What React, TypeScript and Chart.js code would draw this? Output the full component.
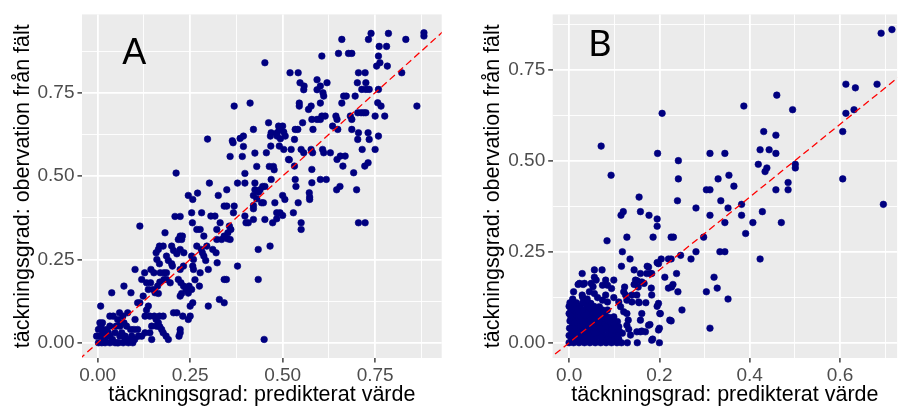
import React, { useEffect, useRef } from "react";
import { Chart, registerables } from "chart.js";

Chart.register(...registerables);

// ---------- data ----------
// Panel A: [predicted, observed]
const pointsA: [number, number][] = [
  [0.882, 0.93], [0.882, 0.92], [0.739, 0.928], [0.786, 0.928], [0.732, 0.91], [0.833, 0.91], [0.66, 0.91],
  [0.761, 0.889], [0.781, 0.889], [0.606, 0.86], [0.651, 0.868], [0.678, 0.868], [0.687, 0.868], [0.759, 0.86],
  [0.763, 0.84], [0.754, 0.83], [0.783, 0.83], [0.452, 0.84], [0.52, 0.81], [0.542, 0.81], [0.705, 0.81],
  [0.723, 0.81], [0.822, 0.81], [0.547, 0.78], [0.558, 0.77], [0.593, 0.789], [0.602, 0.77], [0.593, 0.759],
  [0.62, 0.78], [0.557, 0.759], [0.609, 0.75], [0.611, 0.74], [0.702, 0.78], [0.725, 0.78], [0.714, 0.76],
  [0.725, 0.76], [0.734, 0.76], [0.759, 0.76], [0.696, 0.74], [0.665, 0.74], [0.672, 0.74], [0.66, 0.719],
  [0.545, 0.719], [0.545, 0.71], [0.577, 0.71], [0.57, 0.7], [0.602, 0.719], [0.757, 0.72], [0.766, 0.71],
  [0.863, 0.71], [0.369, 0.71], [0.412, 0.719], [0.703, 0.69], [0.712, 0.69], [0.719, 0.69], [0.725, 0.69],
  [0.75, 0.68], [0.776, 0.68], [0.606, 0.68], [0.615, 0.68], [0.602, 0.67], [0.593, 0.67], [0.579, 0.67],
  [0.644, 0.68], [0.647, 0.67], [0.683, 0.68], [0.687, 0.67], [0.462, 0.66], [0.554, 0.66], [0.635, 0.65],
  [0.687, 0.64], [0.649, 0.64], [0.582, 0.64], [0.534, 0.64], [0.541, 0.64], [0.489, 0.65], [0.5, 0.65],
  [0.491, 0.64], [0.503, 0.632], [0.421, 0.64], [0.469, 0.63], [0.467, 0.62], [0.485, 0.63], [0.485, 0.62],
  [0.494, 0.612], [0.507, 0.62], [0.705, 0.63], [0.731, 0.63], [0.703, 0.61], [0.734, 0.61], [0.759, 0.62],
  [0.532, 0.61], [0.394, 0.62], [0.385, 0.613], [0.364, 0.606], [0.297, 0.611], [0.366, 0.6], [0.456, 0.57],
  [0.468, 0.59], [0.491, 0.59], [0.503, 0.58], [0.523, 0.58], [0.55, 0.58], [0.557, 0.57], [0.577, 0.58],
  [0.581, 0.57], [0.608, 0.58], [0.611, 0.57], [0.629, 0.57], [0.394, 0.589], [0.425, 0.569], [0.358, 0.559],
  [0.391, 0.559], [0.516, 0.55], [0.647, 0.55], [0.656, 0.56], [0.669, 0.56], [0.75, 0.58], [0.715, 0.58],
  [0.722, 0.53], [0.731, 0.54], [0.663, 0.53], [0.518, 0.549], [0.579, 0.52], [0.532, 0.53], [0.692, 0.51],
  [0.469, 0.49], [0.534, 0.49], [0.579, 0.48], [0.602, 0.49], [0.618, 0.49], [0.464, 0.529], [0.475, 0.529],
  [0.477, 0.519], [0.43, 0.529], [0.398, 0.508], [0.212, 0.509], [0.378, 0.479], [0.398, 0.479], [0.302, 0.479],
  [0.425, 0.479], [0.536, 0.469], [0.452, 0.469], [0.655, 0.469], [0.646, 0.459], [0.7, 0.459], [0.245, 0.442],
  [0.257, 0.43], [0.27, 0.449], [0.326, 0.442], [0.349, 0.459], [0.425, 0.459], [0.439, 0.459], [0.446, 0.469],
  [0.435, 0.452], [0.421, 0.442], [0.43, 0.432], [0.5, 0.442], [0.506, 0.43], [0.572, 0.45], [0.573, 0.437],
  [0.573, 0.43], [0.479, 0.42], [0.542, 0.42], [0.421, 0.412], [0.443, 0.42], [0.448, 0.42], [0.421, 0.402],
  [0.342, 0.41], [0.349, 0.41], [0.369, 0.41], [0.484, 0.39], [0.493, 0.39], [0.529, 0.39], [0.5, 0.382],
  [0.254, 0.39], [0.281, 0.39], [0.306, 0.38], [0.317, 0.38], [0.367, 0.39], [0.209, 0.379], [0.223, 0.379],
  [0.398, 0.38], [0.484, 0.372], [0.421, 0.37], [0.401, 0.36], [0.407, 0.36], [0.452, 0.37], [0.473, 0.36],
  [0.55, 0.36], [0.55, 0.34], [0.705, 0.36], [0.723, 0.36], [0.114, 0.35], [0.256, 0.36], [0.331, 0.36],
  [0.356, 0.35], [0.36, 0.34], [0.352, 0.33], [0.268, 0.34], [0.277, 0.34], [0.322, 0.34], [0.182, 0.33],
  [0.223, 0.32], [0.229, 0.32], [0.287, 0.32], [0.342, 0.32], [0.351, 0.312], [0.358, 0.31], [0.335, 0.31],
  [0.322, 0.31], [0.218, 0.31], [0.227, 0.31], [0.268, 0.29], [0.295, 0.29], [0.167, 0.29], [0.177, 0.29],
  [0.164, 0.28], [0.2, 0.29], [0.205, 0.277], [0.214, 0.267], [0.434, 0.28], [0.466, 0.29], [0.311, 0.28],
  [0.32, 0.27], [0.223, 0.28], [0.233, 0.27], [0.28, 0.28], [0.283, 0.27], [0.158, 0.27], [0.254, 0.26],
  [0.259, 0.25], [0.287, 0.26], [0.292, 0.247], [0.186, 0.26], [0.191, 0.247], [0.2, 0.237], [0.202, 0.23],
  [0.16, 0.25], [0.167, 0.237], [0.323, 0.24], [0.232, 0.23], [0.257, 0.23], [0.378, 0.23], [0.101, 0.22],
  [0.144, 0.22], [0.259, 0.22], [0.299, 0.22], [0.277, 0.21], [0.223, 0.22], [0.127, 0.21], [0.152, 0.21],
  [0.169, 0.21], [0.179, 0.21], [0.186, 0.21], [0.119, 0.19], [0.132, 0.18], [0.143, 0.18], [0.179, 0.19],
  [0.186, 0.19], [0.168, 0.182], [0.162, 0.17], [0.164, 0.148], [0.218, 0.19], [0.225, 0.18], [0.232, 0.17],
  [0.263, 0.189], [0.275, 0.17], [0.434, 0.19], [0.342, 0.19], [0.348, 0.19], [0.196, 0.18], [0.239, 0.16],
  [0.245, 0.149], [0.247, 0.17], [0.254, 0.16], [0.071, 0.17], [0.137, 0.16], [0.15, 0.16], [0.038, 0.15],
  [0.09, 0.15], [0.223, 0.14], [0.227, 0.148], [0.123, 0.14], [0.155, 0.15], [0.329, 0.13], [0.342, 0.12],
  [0.257, 0.12], [0.25, 0.11], [0.299, 0.11], [0.108, 0.12], [0.114, 0.12], [0.137, 0.11], [0.008, 0.11],
  [0.132, 0.098], [0.205, 0.09], [0.214, 0.09], [0.23, 0.08], [0.25, 0.08], [0.245, 0.07], [0.059, 0.09],
  [0.068, 0.08], [0.081, 0.09], [0.033, 0.08], [0.042, 0.08], [0.128, 0.08], [0.141, 0.08], [0.153, 0.08],
  [0.167, 0.08], [0.177, 0.08], [0.054, 0.07], [0.062, 0.06], [0.071, 0.06], [0.101, 0.07], [0.158, 0.07],
  [0.164, 0.06], [0.006, 0.06], [0.013, 0.06], [0.009, 0.05], [0.033, 0.05], [0.05, 0.05], [0.06, 0.05],
  [0.078, 0.05], [0.089, 0.04], [0.098, 0.04], [0.108, 0.04], [0.146, 0.05], [0.159, 0.05], [0.168, 0.048],
  [0.173, 0.04], [0.177, 0.03], [0.185, 0.02], [0.223, 0.04], [0.223, 0.03], [0.22, 0.02], [0.002, 0.04],
  [0.011, 0.04], [0.024, 0.04], [0.015, 0.03], [0.029, 0.03], [0.047, 0.03], [-0.003, 0.02], [0.006, 0.02],
  [0.033, 0.02], [0.06, 0.02], [0.074, 0.02], [0.092, 0.02], [0.11, 0.02], [0.119, 0.02], [0.146, 0.01],
  [0.002, 0.0], [0.011, 0.0], [0.02, 0.0], [0.033, 0.0], [0.047, 0.0], [0.056, 0.0], [0.069, 0.0],
  [0.083, 0.0], [0.095, 0.0], [0.074, 0.01], [0.087, 0.01], [0.45, 0.01], [0.128, 0.03], [0.141, 0.03],
  [0.191, 0.01], [0.04, 0.01], [0.02, 0.01], [0.1, 0.01], [0.053, 0.0], [0.01, 0.02], [0.025, 0.025],
  [0.065, 0.03],
];

// Panel B: [predicted, observed]
const pointsB: [number, number][] = [
  [0.715, 0.86], [0.691, 0.85], [0.613, 0.71], [0.634, 0.7], [0.682, 0.71], [0.613, 0.63], [0.631, 0.64],
  [0.606, 0.58], [0.606, 0.45], [0.696, 0.38], [0.46, 0.68], [0.387, 0.65], [0.495, 0.64], [0.431, 0.58],
  [0.458, 0.57], [0.423, 0.53], [0.443, 0.53], [0.458, 0.52], [0.419, 0.49], [0.438, 0.48], [0.434, 0.47],
  [0.501, 0.49], [0.501, 0.48], [0.458, 0.42], [0.485, 0.44], [0.485, 0.42], [0.206, 0.63], [0.071, 0.54],
  [0.196, 0.52], [0.312, 0.52], [0.345, 0.52], [0.242, 0.5], [0.093, 0.46], [0.242, 0.45], [0.33, 0.45],
  [0.354, 0.46], [0.365, 0.43], [0.304, 0.42], [0.312, 0.42], [0.155, 0.4], [0.24, 0.39], [0.336, 0.39],
  [0.382, 0.38], [0.352, 0.37], [0.281, 0.37], [0.428, 0.36], [0.158, 0.36], [0.115, 0.35], [0.12, 0.36],
  [0.177, 0.35], [0.312, 0.35], [0.382, 0.35], [0.195, 0.34], [0.195, 0.32], [0.345, 0.33], [0.407, 0.33],
  [0.47, 0.33], [0.391, 0.3], [0.084, 0.28], [0.128, 0.29], [0.186, 0.29], [0.226, 0.29], [0.231, 0.29],
  [0.298, 0.29], [0.118, 0.25], [0.281, 0.25], [0.334, 0.25], [0.345, 0.25], [0.247, 0.24], [0.135, 0.23],
  [0.204, 0.23], [0.22, 0.23], [0.226, 0.23], [0.27, 0.23], [0.423, 0.23], [0.195, 0.22], [0.116, 0.21],
  [0.173, 0.21], [0.056, 0.2], [0.073, 0.2], [0.144, 0.2], [0.029, 0.19], [0.158, 0.19], [0.18, 0.19],
  [0.238, 0.19], [0.212, 0.18], [0.321, 0.18], [0.02, 0.16], [0.031, 0.16], [0.144, 0.16], [0.151, 0.17],
  [0.23, 0.16], [0.182, 0.15], [0.22, 0.15], [0.328, 0.15], [0.241, 0.14], [0.304, 0.14], [0.352, 0.12],
  [0.155, 0.11], [0.17, 0.11], [0.195, 0.1], [0.25, 0.09], [0.202, 0.08], [0.226, 0.06], [0.179, 0.05],
  [0.2, 0.04], [0.312, 0.04], [0.158, 0.03], [0.169, 0.03], [0.185, 0.01], [0.2, 0.0], [0.151, 0.0],
  [0.129, 0.0],
  [0.056, 0.18], [0.06, 0.172], [0.081, 0.172], [0.099, 0.172], [0.023, 0.163], [0.034, 0.163], [0.049, 0.163],
  [0.053, 0.154], [0.074, 0.158], [0.085, 0.158], [0.094, 0.149], [0.029, 0.131], [0.056, 0.135], [0.063, 0.124],
  [0.081, 0.131], [0.074, 0.117], [0.085, 0.112], [0.099, 0.124], [0.11, 0.112], [0.114, 0.099], [0.121, 0.085],
  [0.139, 0.131], [0.15, 0.131], [0.139, 0.112], [0.154, 0.112], [0.012, 0.108], [0.019, 0.099], [0.037, 0.108],
  [0.048, 0.108], [0.043, 0.09], [0.067, 0.099], [0.074, 0.09], [0.085, 0.09], [0.099, 0.071], [0.107, 0.058],
  [0.11, 0.044], [0.128, 0.08], [0.131, 0.062], [0.128, 0.048], [0.132, 0.037], [0.118, 0.026], [0.136, 0.021],
  [0.15, 0.03], [0.161, 0.032], [0.176, 0.048], [0.183, 0.007], [0.198, 0.035], [0.147, 0.172], [0.183, 0.19],
  [0.166, 0.163], [0.153, 0.153], [0.183, 0.131], [0.198, 0.108], [0.201, 0.08], [0.223, 0.062], [0.227, 0.153],
  [0.198, 0.217], [0.176, 0.208], [0.172, 0.19], [0.161, 0.167], [0.123, 0.153], [0.121, 0.14], [0.125, 0.131],
  [0.128, 0.117], [0.158, 0.062], [0.161, 0.08],
  [0.0, 0.1], [0.012, 0.1], [0.025, 0.1], [0.04, 0.1], [0.055, 0.1],
  [0.004, 0.09], [0.018, 0.09], [0.031, 0.09], [0.047, 0.09], [0.06, 0.09],
  [0.0, 0.08], [0.014, 0.08], [0.027, 0.08], [0.04, 0.08], [0.053, 0.08], [0.066, 0.08], [0.079, 0.08],
  [0.007, 0.07], [0.02, 0.07], [0.034, 0.07], [0.048, 0.07], [0.061, 0.07], [0.075, 0.07], [0.088, 0.07],
  [0.002, 0.06], [0.015, 0.06], [0.028, 0.06], [0.042, 0.06], [0.055, 0.06], [0.069, 0.06], [0.083, 0.06], [0.095, 0.06],
  [0.008, 0.05], [0.021, 0.05], [0.035, 0.05], [0.049, 0.05], [0.062, 0.05], [0.076, 0.05], [0.09, 0.05], [0.1, 0.05],
  [0.001, 0.04], [0.014, 0.04], [0.027, 0.04], [0.041, 0.04], [0.055, 0.04], [0.068, 0.04], [0.082, 0.04], [0.096, 0.04], [0.104, 0.04],
  [0.006, 0.03], [0.019, 0.03], [0.033, 0.03], [0.046, 0.03], [0.06, 0.03], [0.073, 0.03], [0.087, 0.03], [0.1, 0.03], [0.112, 0.03],
  [0.0, 0.02], [0.012, 0.02], [0.025, 0.02], [0.039, 0.02], [0.052, 0.02], [0.066, 0.02], [0.079, 0.02], [0.093, 0.02], [0.106, 0.02],
  [0.005, 0.01], [0.018, 0.01], [0.031, 0.01], [0.045, 0.01], [0.058, 0.01], [0.072, 0.01], [0.085, 0.01], [0.099, 0.01], [0.11, 0.01],
  [0.0, 0.0], [0.01, 0.0], [0.022, 0.0], [0.034, 0.0], [0.046, 0.0], [0.058, 0.0], [0.07, 0.0], [0.082, 0.0], [0.094, 0.0], [0.106, 0.0], [0.116, 0.0],
  [0.002, 0.11], [0.016, 0.11], [0.03, 0.11], [0.008, 0.12], [0.04, 0.12], [0.01, 0.14], [0.045, 0.14],
  [0.007, 0.095], [0.021, 0.085], [0.036, 0.075], [0.051, 0.065], [0.066, 0.055], [0.081, 0.045], [0.094, 0.035],
  [0.012, 0.055], [0.026, 0.045], [0.041, 0.035], [0.056, 0.025], [0.071, 0.015], [0.088, 0.005], [0.03, 0.125],
  [0.062, 0.085], [0.045, 0.095], [0.09, 0.065], [0.107, 0.015], [0.003, 0.075], [0.017, 0.025], [0.035, 0.015],
];

// Axis ticks and labels
const majorTicksA = [0, 0.25, 0.5, 0.75];
const minorTicksA = [0.125, 0.375, 0.625, 0.875];
const tickLabelsA = ["0.00", "0.25", "0.50", "0.75"];
const majorTicksBx = [0, 0.2, 0.4, 0.6];
const minorTicksBx = [0.1, 0.3, 0.5, 0.7];
const tickLabelsBx = ["0.0", "0.2", "0.4", "0.6"];
const majorTicksBy = [0, 0.25, 0.5, 0.75];
const minorTicksBy = [0.125, 0.375, 0.625, 0.875];
const tickLabelsBy = ["0.00", "0.25", "0.50", "0.75"];

// identity (1:1) reference line ends
const identityA = [-0.05, 0.95];
const identityB = [-0.05, 0.95];

const xTitle = "täckningsgrad: predikterat värde";
const yTitle = "täckningsgrad: obervation från fält";

// ---------- styling ----------
const FONT = "'Liberation Sans', Arial, Helvetica, sans-serif";
const NAVY = "#000080";

interface PanelCfg {
  width: number;
  points: [number, number][];
  identity: number[];
  xRange: [number, number];
  yRange: [number, number];
  xMajor: number[]; xMinor: number[]; xLabels: string[];
  yMajor: number[]; yMinor: number[]; yLabels: string[];
  yAxisWidth: number;
  rightPad: number;
  yTitlePad: number;
  letter: string;
  letterPos: [number, number];
  letterFont: string;
  letterSize: number;
  letterCap: number;
}

function makeAxis(
  major: number[], minor: number[], labels: string[], range: [number, number],
  title: string, fit: (s: any) => void, titlePad: any, tickPad: number
) {
  const all = [...major, ...minor].sort((a, b) => a - b);
  const isMajor = (v: number) => major.some((m) => Math.abs(m - v) < 1e-9);
  return {
    type: "linear" as const,
    min: range[0],
    max: range[1],
    afterBuildTicks: (s: any) => {
      s.ticks = all.map((v) => ({ value: v }));
    },
    afterFit: fit,
    border: { display: false },
    grid: {
      color: "#FFFFFF",
      lineWidth: (c: any) => (c.tick && isMajor(c.tick.value) ? 1.8 : 0.9),
      drawTicks: true,
      tickLength: 4.5,
      tickWidth: 1.4,
      tickColor: (c: any) => (c.tick && isMajor(c.tick.value) ? "#333333" : "rgba(0,0,0,0)"),
    },
    ticks: {
      autoSkip: false,
      maxRotation: 0,
      minRotation: 0,
      padding: tickPad,
      color: "#4D4D4D",
      font: { family: FONT, size: 19 },
      callback: (v: any) => {
        const i = major.findIndex((m) => Math.abs(m - Number(v)) < 1e-9);
        return i >= 0 ? labels[i] : "";
      },
    },
    title: {
      display: true,
      text: title,
      color: "#000000",
      font: { family: FONT, size: 21.5 },
      padding: titlePad,
    },
  };
}

const panelPlugin = {
  id: "ggpanel",
  beforeDraw(chart: any) {
    const { ctx, chartArea } = chart;
    const { left, top, right, bottom } = chartArea;
    ctx.save();
    ctx.fillStyle = "#EBEBEB";
    ctx.fillRect(left, top, right - left, bottom - top);
    ctx.restore();
  },
  afterDraw(chart: any) {
    const cfg: PanelCfg = chart.options.plugins.ggpanel.cfg;
    const { ctx, scales } = chart;
    const x = scales.x.getPixelForValue(cfg.letterPos[0]);
    const y = scales.y.getPixelForValue(cfg.letterPos[1]);
    ctx.save();
    ctx.fillStyle = "#000000";
    ctx.font = `${cfg.letterSize}px ${cfg.letterFont}`;
    ctx.textAlign = "center";
    ctx.textBaseline = "alphabetic";
    ctx.fillText(cfg.letter, x, y + cfg.letterCap / 2);
    ctx.restore();
  },
};

function Panel({ cfg }: { cfg: PanelCfg }) {
  const ref = useRef<HTMLCanvasElement>(null);
  useEffect(() => {
    const canvas = ref.current;
    if (!canvas) return;
    const chart = new Chart(canvas, {
      type: "scatter",
      data: {
        datasets: [
          {
            type: "line",
            data: cfg.identity.map((v) => ({ x: v, y: v })),
            borderColor: "#FF0000",
            borderWidth: 1.3,
            borderDash: [7, 4],
            pointRadius: 0,
            fill: false,
            clip: 0,
          } as any,
          {
            data: cfg.points.map(([x, y]) => ({ x, y })),
            backgroundColor: NAVY,
            borderColor: NAVY,
            borderWidth: 0.6,
            pointRadius: 3.3,
            pointHoverRadius: 3.3,
          },
        ],
      },
      options: {
        responsive: false,
        animation: false,
        devicePixelRatio: 1,
        events: [],
        layout: { padding: { left: 0, top: 13.3, right: cfg.rightPad, bottom: 0 } },
        plugins: {
          legend: { display: false },
          tooltip: { enabled: false },
          ggpanel: { cfg },
        } as any,
        scales: {
          x: makeAxis(cfg.xMajor, cfg.xMinor, cfg.xLabels, cfg.xRange, xTitle,
            (s: any) => { s.height = 52; }, { top: 0, bottom: 2 }, 1.5) as any,
          y: makeAxis(cfg.yMajor, cfg.yMinor, cfg.yLabels, cfg.yRange, yTitle,
            (s: any) => { s.width = cfg.yAxisWidth; }, { top: cfg.yTitlePad, bottom: 0 }, 3) as any,
        },
      },
      plugins: [panelPlugin],
    });
    return () => chart.destroy();
  }, [cfg]);
  return (
    <canvas
      ref={ref}
      width={cfg.width}
      height={410}
      style={{ display: "block", width: cfg.width, height: 410 }}
    />
  );
}

const cfgA: PanelCfg = {
  width: 450,
  points: pointsA,
  identity: identityA,
  xRange: [-0.0424, 0.93],
  yRange: [-0.0456, 0.985],
  xMajor: majorTicksA, xMinor: minorTicksA, xLabels: tickLabelsA,
  yMajor: majorTicksA, yMinor: minorTicksA, yLabels: tickLabelsA,
  yAxisWidth: 82,
  rightPad: 8.3,
  yTitlePad: 10,
  letter: "A",
  letterPos: [0.099, 0.875],
  letterFont: FONT,
  letterSize: 36,
  letterCap: 25.8,
};

const cfgB: PanelCfg = {
  width: 451,
  points: pointsB,
  identity: identityB,
  xRange: [-0.0363, 0.7264],
  yRange: [-0.0419, 0.9017],
  xMajor: majorTicksBx, xMinor: minorTicksBx, xLabels: tickLabelsBx,
  yMajor: majorTicksBy, yMinor: minorTicksBy, yLabels: tickLabelsBy,
  yAxisWidth: 102.7,
  rightPad: 0,
  yTitlePad: 30.3,
  letter: "B",
  letterPos: [0.068, 0.822],
  letterFont: "Lato, 'Open Sans', sans-serif",
  letterSize: 36,
  letterCap: 25.8,
};

export default function App() {
  return (
    <div
      style={{
        position: "absolute",
        left: 0,
        top: 0,
        width: 901,
        height: 410,
        background: "#FFFFFF",
        display: "flex",
        flexDirection: "row",
      }}
    >
      <Panel cfg={cfgA} />
      <Panel cfg={cfgB} />
    </div>
  );
}
